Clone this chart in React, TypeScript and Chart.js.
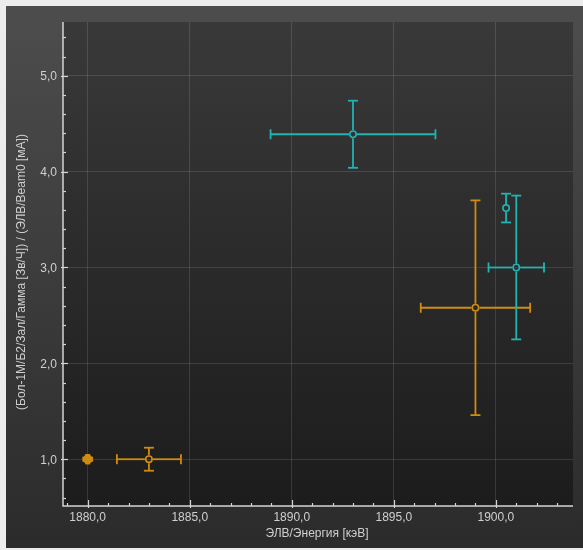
import React, { useEffect, useRef } from "react";
import { Chart, registerables } from "chart.js";

Chart.register(...registerables);

// ---- data ----
const orangeX = [1880.0, 1883.0, 1899.0];
const orangeY = [1.0, 1.0, 2.58];
const orangeXErr = [0.22, 1.57, 2.68];
const orangeYErr = [0.045, 0.12, 1.12];

const cyanX = [1893.0, 1900.5, 1901.0];
const cyanY = [4.39, 3.62, 3.0];
const cyanXErr = [4.04, 0, 1.36];
const cyanYErr = [0.35, 0.15, 0.75];

const xTickValues = [1880, 1885, 1890, 1895, 1900];
const yTickValues = [1, 2, 3, 4, 5];
const xMin = 1878.79;
const xMax = 1903.78;
const yMin = 0.512;
const yMax = 5.561;

const xTitle = "ЭЛВ/Энергия [кэВ]";
const yTitle = "(Бол-1М/Б2/Зал/Гамма [Зв/Ч]) / (ЭЛВ/Beam0 [мА])";

const ORANGE = "#cf8c10";
const CYAN = "#22b3b3";
const TEXT = "#cfcfcf";
const FONT = "12px 'Liberation Sans', Arial, sans-serif";

const fmt = (v: number) => v.toFixed(1).replace(".", ",");

const chartPlugin = {
  id: "customDecor",
  beforeDraw(chart: any) {
    const { ctx, chartArea: a, width, height } = chart;
    ctx.save();
    ctx.fillStyle = "#ececec";
    ctx.fillRect(0, 0, width, height);
    let g = ctx.createLinearGradient(0, 6, 0, 548);
    g.addColorStop(0, "#4d4d4d");
    g.addColorStop(1, "#2b2b2b");
    ctx.fillStyle = g;
    ctx.fillRect(6, 6, width - 6, 548 - 6);
    g = ctx.createLinearGradient(0, a.top, 0, a.bottom);
    g.addColorStop(0, "#393939");
    g.addColorStop(1, "#1c1c1c");
    ctx.fillStyle = g;
    ctx.fillRect(a.left, a.top, a.right - a.left, a.bottom - a.top);
    ctx.restore();
  },
  beforeDatasetsDraw(chart: any) {
    const { ctx, chartArea: a } = chart;
    const xs = chart.scales.x;
    const ys = chart.scales.y;
    ctx.save();

    // axis lines
    ctx.strokeStyle = "#d4d4d4";
    ctx.lineWidth = 1.5;
    ctx.beginPath();
    ctx.moveTo(a.left, a.top);
    ctx.lineTo(a.left, a.bottom);
    ctx.lineTo(a.right, a.bottom);
    ctx.stroke();

    // ticks
    ctx.lineWidth = 1.2;
    const yMajor = ys.ticks.map((t: any) => t.value);
    const xMajor = xs.ticks.map((t: any) => t.value);
    for (let k = Math.ceil(yMin * 5); k <= Math.floor(yMax * 5); k++) {
      const v = k / 5;
      const py = Math.round(ys.getPixelForValue(v)) + 0.5;
      const major = yMajor.some((m: number) => Math.abs(m - v) < 1e-6);
      ctx.beginPath();
      ctx.moveTo(a.left - (major ? 2 : 0), py);
      ctx.lineTo(a.left + (major ? 5 : 3), py);
      ctx.stroke();
    }
    for (let v = Math.ceil(xMin); v <= Math.floor(xMax); v++) {
      const px = Math.round(xs.getPixelForValue(v)) + 0.5;
      const major = xMajor.some((m: number) => Math.abs(m - v) < 1e-6);
      ctx.beginPath();
      ctx.moveTo(px, a.bottom + (major ? 2 : 0));
      ctx.lineTo(px, a.bottom - (major ? 6 : 3));
      ctx.stroke();
    }

    // tick labels
    ctx.fillStyle = TEXT;
    ctx.font = FONT;
    ctx.textAlign = "right";
    ctx.textBaseline = "middle";
    ys.ticks.forEach((t: any) => {
      ctx.fillText(fmt(t.value), a.left - 6, ys.getPixelForValue(t.value) + 1);
    });
    ctx.textAlign = "center";
    xs.ticks.forEach((t: any) => {
      ctx.fillText(fmt(t.value), xs.getPixelForValue(t.value), a.bottom + 12);
    });

    // axis titles
    ctx.fillText(xTitle, (a.left + a.right) / 2 - 1, a.bottom + 28);
    ctx.save();
    ctx.translate(22, (a.top + a.bottom) / 2 + 8);
    ctx.rotate(-Math.PI / 2);
    ctx.fillText(yTitle, 0, 0);
    ctx.restore();

    // error bars
    chart.data.datasets.forEach((ds: any) => {
      ctx.strokeStyle = ds.borderColor;
      ctx.lineWidth = 1.8;
      ds.data.forEach((p: any, i: number) => {
        const cx = xs.getPixelForValue(p.x);
        const cy = ys.getPixelForValue(p.y);
        const ex = ds.errX[i];
        const ey = ds.errY[i];
        const filled = ds.filled[i];
        const gap = filled ? 0 : 4;
        const line = (x1: number, y1: number, x2: number, y2: number) => {
          ctx.beginPath();
          ctx.moveTo(x1, y1);
          ctx.lineTo(x2, y2);
          ctx.stroke();
        };
        if (ex > 0) {
          const xl = xs.getPixelForValue(p.x - ex);
          const xr = xs.getPixelForValue(p.x + ex);
          const cap = cx - xl < 8 ? 2.5 : 5;
          if (cx - gap > xl) line(xl, cy, cx - gap, cy);
          if (cx + gap < xr) line(cx + gap, cy, xr, cy);
          line(xl, cy - cap, xl, cy + cap);
          line(xr, cy - cap, xr, cy + cap);
        }
        if (ey > 0) {
          const yt = ys.getPixelForValue(p.y + ey);
          const yb = ys.getPixelForValue(p.y - ey);
          const cap = cy - yt < 8 ? 2.5 : 5;
          if (cy - gap > yt) line(cx, yt, cx, cy - gap);
          if (cy + gap < yb) line(cx, cy + gap, cx, yb);
          line(cx - cap, yt, cx + cap, yt);
          line(cx - cap, yb, cx + cap, yb);
        }
      });
    });
    ctx.restore();
  },
};

export default function App() {
  const ref = useRef<HTMLCanvasElement | null>(null);
  useEffect(() => {
    if (!ref.current) return;
    const orangeFilled = [true, false, false];
    const cyanFilled = [false, false, false];
    const chart = new Chart(ref.current, {
      type: "scatter",
      data: {
        datasets: [
          {
            label: "orange",
            data: orangeX.map((x, i) => ({ x, y: orangeY[i] })),
            errX: orangeXErr,
            errY: orangeYErr,
            filled: orangeFilled,
            borderColor: ORANGE,
            backgroundColor: ORANGE,
            pointBackgroundColor: orangeFilled.map((f) => (f ? ORANGE : "rgba(0,0,0,0)")),
            pointRadius: orangeFilled.map((f) => (f ? 4 : 3.2)),
            pointBorderWidth: 1.6,
            showLine: false,
          } as any,
          {
            label: "cyan",
            data: cyanX.map((x, i) => ({ x, y: cyanY[i] })),
            errX: cyanXErr,
            errY: cyanYErr,
            filled: cyanFilled,
            borderColor: CYAN,
            backgroundColor: CYAN,
            pointBackgroundColor: "rgba(0,0,0,0)",
            pointRadius: 3.2,
            pointBorderWidth: 1.6,
            showLine: false,
          } as any,
        ],
      },
      options: {
        responsive: false,
        animation: false,
        layout: { padding: { top: 22, right: 10, left: 0, bottom: 0 } },
        plugins: {
          legend: { display: false },
          tooltip: { enabled: false },
        },
        scales: {
          x: {
            type: "linear",
            min: xMin,
            max: xMax,
            afterBuildTicks: (s: any) => {
              s.ticks = xTickValues.map((v) => ({ value: v }));
            },
            afterFit: (s: any) => {
              s.height = 44;
            },
            ticks: { display: false },
            grid: { color: "rgba(255,255,255,0.12)", lineWidth: 1, drawTicks: false },
            border: { display: false },
          },
          y: {
            type: "linear",
            min: yMin,
            max: yMax,
            afterBuildTicks: (s: any) => {
              s.ticks = yTickValues.map((v) => ({ value: v }));
            },
            afterFit: (s: any) => {
              s.width = 63;
            },
            ticks: { display: false },
            grid: { color: "rgba(255,255,255,0.12)", lineWidth: 1, drawTicks: false },
            border: { display: false },
          },
        },
      } as any,
      plugins: [chartPlugin],
    });
    return () => chart.destroy();
  }, []);
  return (
    <div style={{ position: "fixed", left: 0, top: 0, width: 583, height: 550 }}>
      <canvas ref={ref} width={583} height={550} style={{ width: 583, height: 550, display: "block" }} />
    </div>
  );
}
